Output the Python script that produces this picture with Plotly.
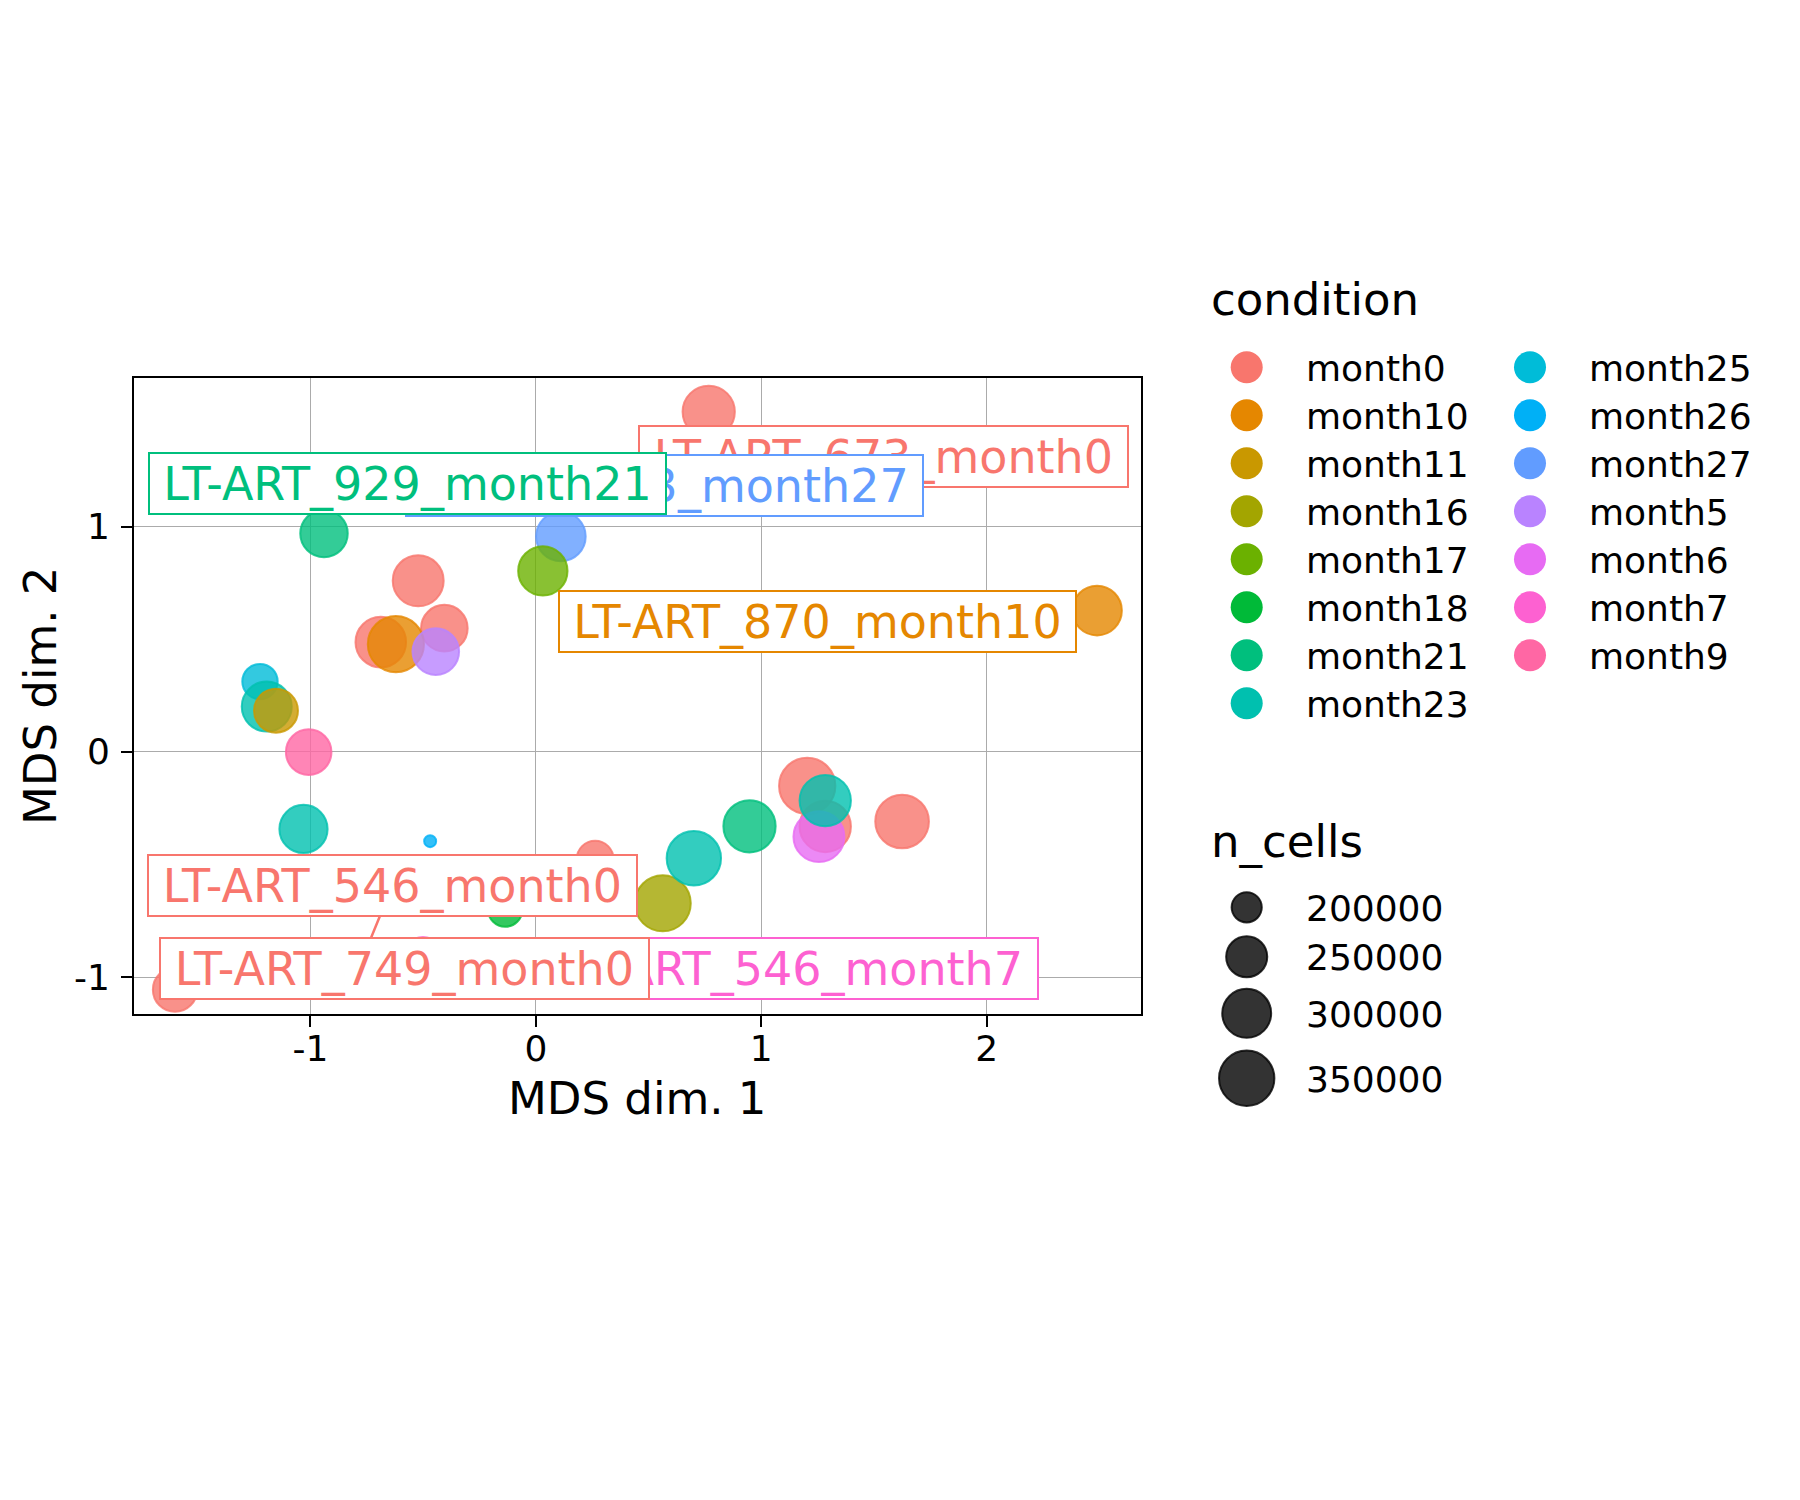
import numpy as np
import plotly.graph_objects as go

# ---------------- data ----------------
conditions = ["month0", "month0", "month0", "month0", "month0", "month0", "month0", "month0", "month0", "month0",
              "month27", "month10", "month10", "month5", "month25", "month23", "month11", "month9", "month23",
              "month26", "month18", "month7", "month16", "month23", "month21", "month21", "month17", "month6",
              "month23"]
mds1 = [0.767, -0.522, -0.406, -0.688, 0.263, 1.204, 1.284, 1.625, -1.601, -0.793,
        0.111, -0.621, 2.490, -0.444, -1.224, -1.194, -1.153, -1.008, -1.031,
        -0.469, -0.136, -0.501, 0.563, 0.701, 0.948, -0.940, 0.031, 1.256,
        1.284]
mds2 = [1.509, 0.759, 0.549, 0.487, -0.476, -0.151, -0.331, -0.309, -1.055, -0.976,
        0.956, 0.478, 0.627, 0.445, 0.312, 0.201, 0.183, -0.001, -0.342,
        -0.396, -0.700, -0.910, -0.672, -0.472, -0.330, 0.969, 0.803, -0.376,
        -0.216]
n_cells = [325000, 315000, 284000, 312000, 228000, 358000, 318000, 336000, 269000, 262000,
           305000, 357000, 305000, 284000, 221000, 308000, 267000, 277000, 295000,
           168000, 216000, 245000, 356000, 342000, 325000, 290000, 303000, 315000,
           318000]

# labelled samples: index of the point and patient id
label_point = [0, 10, 25, 12, 9, 21, 8]
label_patient = ["673", "673", "929", "870", "546", "546", "749"]

condition_levels = ["month0", "month10", "month11", "month16", "month17", "month18", "month21", "month23",
                    "month25", "month26", "month27", "month5", "month6", "month7", "month9"]
size_breaks = [200000, 250000, 300000, 350000]
size_break_labels = ["200000", "250000", "300000", "350000"]
tick_vals = [-1, 0, 1, 2]
tick_text = ["-1", "0", "1", "2"]

# ---------------- styles ----------------
palette = ["#F8766D", "#E58700", "#C99800", "#A3A500", "#6BB100", "#00BA38", "#00BF7D", "#00C0AF",
           "#00BCD8", "#00B0F6", "#619CFF", "#B983FF", "#E76BF3", "#FD61D1", "#FF67A4"]
col_of = dict(zip(condition_levels, palette))

# label box positions (data coords of box centres)
label_pos_x = [1.541, 0.570, -0.570, 1.249, -0.636, 1.144, -0.582]
label_pos_y = [1.311, 1.182, 1.191, 0.580, -0.592, -0.963, -0.962]
label_arrow = [False, False, False, False, True, False, False]

OFF = 8                      # page body margin
W, H = 1800 - 2 * OFF, 1500 - 2 * OFF
PL, PR, PT, PB = 134, 1141, 378, 1014   # plot area in screen pixels
XR = [-1.783, 2.685]
YR = [-1.163, 1.659]
FONT = "DejaVu Sans"

SMIN, SMAX = 14.0, 58.3
vmin, vmax = min(n_cells), max(n_cells)


def diam(v):
    t = max(0.0, (v - vmin) / (vmax - vmin))
    return SMIN + (SMAX - SMIN) * np.sqrt(t)


def rgba(hexc, a):
    h = hexc.lstrip("#")
    return "rgba(%d,%d,%d,%.2f)" % (int(h[0:2], 16), int(h[2:4], 16), int(h[4:6], 16), a)


def px2paper(px, py):
    return (px - PL) / (PR - PL), (PB - py) / (PB - PT)


CW = {"L": .557, "T": .611, "-": .361, "A": .684, "R": .695, "_": .5, "m": .974, "o": .612,
      "n": .634, "t": .392, "h": .634}


def text_w(s, size):
    return sum(CW.get(c, .636) for c in s) * size


fig = go.Figure()

LW = 2.0
fig.add_trace(go.Scatter(
    x=mds1, y=mds2, mode="markers",
    marker=dict(
        size=[diam(v) - LW for v in n_cells],
        opacity=1,
        color=[rgba(col_of[c], 0.8) for c in conditions],
        line=dict(color=[rgba(col_of[c], 0.8) for c in conditions], width=LW),
    ),
    showlegend=False, hoverinfo="skip",
))

annotations = []
shapes = []

# labels
LFS = 46
for k, pi in enumerate(label_point):
    cond = conditions[pi]
    txt = "LT-ART_%s_%s" % (label_patient[k], cond)
    col = col_of[cond]
    a = dict(text=txt, font=dict(family=FONT, size=LFS, color=col), bgcolor="white",
             bordercolor=col, borderwidth=2, borderpad=0,
             width=text_w(txt, 44.3) + 30, height=59, align="center", valign="middle")
    if label_arrow[k]:
        a.update(x=mds1[pi], y=mds2[pi], xref="x", yref="y", ax=label_pos_x[k], ay=label_pos_y[k],
                 axref="x", ayref="y", showarrow=True, arrowhead=0, arrowwidth=2.5, arrowcolor=col,
                 standoff=diam(n_cells[pi]) / 2)
    else:
        a.update(x=label_pos_x[k], y=label_pos_y[k], xref="x", yref="y", showarrow=False,
                 xanchor="center", yanchor="middle")
    annotations.append(a)


# ---------------- legend (drawn) ----------------
def circle(cx, cy, d, fill, line, lw):
    x0, y0 = px2paper(cx - d / 2, cy + d / 2)
    x1, y1 = px2paper(cx + d / 2, cy - d / 2)
    shapes.append(dict(type="circle", xref="paper", yref="paper", x0=x0, y0=y0, x1=x1, y1=y1,
                       fillcolor=fill, line=dict(color=line, width=lw), layer="above"))


def text(px, py, s, size, anchor="left", angle=0):
    x, y = px2paper(px, py)
    annotations.append(dict(x=x, y=y, xref="paper", yref="paper", text=s, showarrow=False,
                            xanchor=anchor, yanchor="middle", textangle=angle,
                            font=dict(family=FONT, size=size, color="black")))


# axis titles
text((PL + PR) / 2, 1098, "MDS dim. 1", 45, anchor="center")
text(40, (PT + PB) / 2, "MDS dim. 2", 45, anchor="center", angle=-90)

text(1209, 300, "condition", 45)
col_key_x = [1246.7, 1530.0]
col_lab_x = [1304.0, 1587.0]
for i, lev in enumerate(condition_levels):
    c = 0 if i < 8 else 1
    r = i if i < 8 else i - 8
    cy = 367.3 + 48.0 * r
    circle(col_key_x[c], cy, 32, col_of[lev], col_of[lev], 0)
    text(col_lab_x[c], cy + 1, lev, 36)

text(1209, 841, "n_cells", 45)
size_key_y = [907.3, 956.7, 1013.3, 1078.3]
for yk, b, lab in zip(size_key_y, size_breaks, size_break_labels):
    circle(1246.7, yk, diam(b) - LW, "rgba(0,0,0,0.8)", "rgba(0,0,0,0.8)", LW)
    text(1304.0, yk + 1, lab, 36)

axis_common = dict(showgrid=True, gridcolor="#ABABAB", gridwidth=1.3, zeroline=False,
                   showline=True, linecolor="black", linewidth=2, mirror=True,
                   ticks="outside", ticklen=11, tickwidth=2, tickcolor="black",
                   tickfont=dict(family=FONT, size=36, color="black"),
                   tickmode="array", tickvals=tick_vals, ticktext=tick_text)

fig.update_layout(
    width=W, height=H, autosize=False,
    margin=dict(l=PL - OFF, r=W - (PR - OFF), t=PT - OFF, b=H - (PB - OFF), pad=0),
    paper_bgcolor="white", plot_bgcolor="white",
    xaxis=dict(range=XR, ticklabelstandoff=-9, **axis_common),
    yaxis=dict(range=YR, ticklabelstandoff=4, **axis_common),
    annotations=annotations, shapes=shapes, showlegend=False,
    font=dict(family=FONT),
)

fig.write_html("out.html")
